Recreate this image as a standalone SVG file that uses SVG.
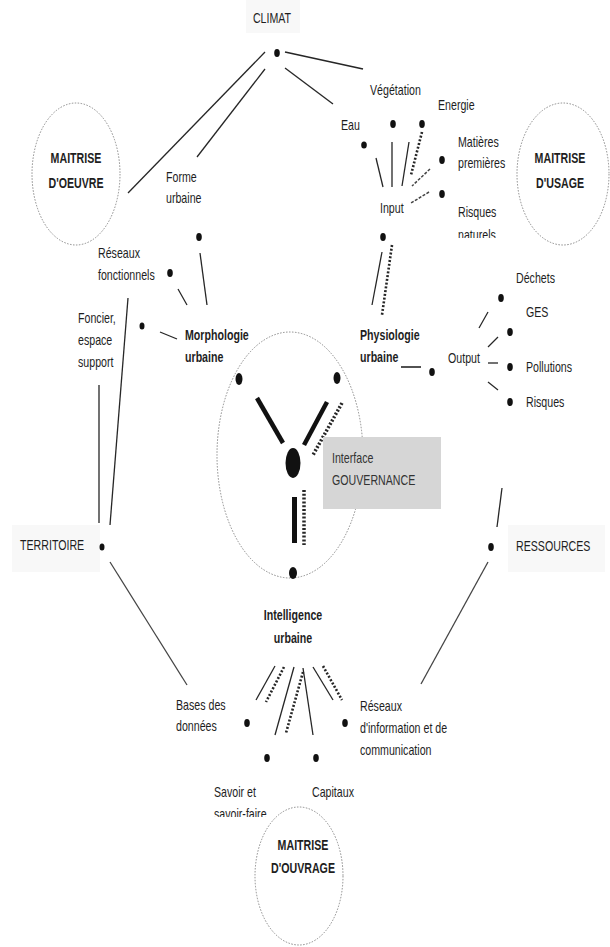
<svg xmlns="http://www.w3.org/2000/svg" width="610" height="947" viewBox="0 0 610 947">
<style>
text{font-family:"Liberation Sans",Arial,sans-serif;font-size:14px;fill:#1e1e1e}
.b{font-weight:bold}
.m{text-anchor:middle}
.dot{fill:#111}
.ring{fill:none;stroke:#8a8a8a;stroke-width:1;stroke-dasharray:1.5 1.5}
.ln{stroke:#262626;stroke-width:1.3;fill:none}
.dt{stroke:#262626;stroke-width:2.6;stroke-dasharray:2 1.8;fill:none}
.ds{stroke:#444;stroke-width:1.5;stroke-dasharray:3 1.5;fill:none}
.th{stroke:#111;stroke-width:4.5;fill:none}
.bg{fill:#f8f8f8}
</style>
<defs>
<clipPath id="clipNat"><rect x="440" y="220" width="80" height="18"/></clipPath>
<clipPath id="clipSav"><rect x="200" y="800" width="80" height="17"/></clipPath>
</defs>
<rect width="610" height="947" fill="#fff"/>
<rect class="bg" x="246" y="0" width="54" height="33"/>
<rect class="bg" x="12" y="525" width="88" height="47"/>
<rect class="bg" x="508" y="525" width="97" height="47"/>

<g id="rings">
<ellipse class="ring" cx="76" cy="174" rx="44" ry="71"/>
<ellipse class="ring" cx="563" cy="174" rx="46" ry="71"/>
<ellipse class="ring" cx="290" cy="455" rx="73" ry="123"/>
<ellipse class="ring" cx="299" cy="876" rx="44" ry="69"/>
</g>

<g id="connectors">
<line class="ln" x1="265" y1="52" x2="128" y2="193"/>
<line class="ln" x1="265" y1="69" x2="197" y2="157"/>
<line class="ln" x1="285" y1="52" x2="363" y2="69" style="stroke-width:1.6"/>
<line class="ln" x1="285" y1="68" x2="333" y2="104"/>
<line class="ln" x1="376" y1="158" x2="383" y2="187"/>
<line class="ln" x1="392" y1="142" x2="392" y2="187"/>
<line class="ln" x1="409" y1="142" x2="402" y2="186"/>
<line class="dt" x1="422" y1="132" x2="411" y2="175"/>
<line class="ds" x1="430" y1="169" x2="412" y2="186"/>
<line class="ds" x1="429" y1="192" x2="411" y2="203"/>
<line class="ln" x1="382" y1="252" x2="372" y2="305"/>
<line class="dt" x1="392" y1="245" x2="382" y2="315"/>
<line class="ln" x1="200" y1="253" x2="207" y2="305"/>
<line class="ln" x1="178" y1="289" x2="187" y2="305"/>
<line class="ln" x1="128" y1="298" x2="110" y2="525"/>
<line class="ln" x1="160" y1="332" x2="177" y2="339"/>
<line class="ln" x1="99" y1="385" x2="99" y2="523"/>
<line class="th" x1="257" y1="398" x2="283" y2="443"/>
<line class="th" x1="327" y1="402" x2="304" y2="445"/>
<line class="dt" x1="342" y1="403" x2="313" y2="455" style="stroke-width:3.5"/>
<line class="th" x1="294.5" y1="497" x2="294.5" y2="543" style="stroke-width:5"/>
<line class="dt" x1="304" y1="490" x2="304" y2="545" style="stroke-width:3.5"/>
<line class="ln" x1="401" y1="367" x2="421" y2="367" style="stroke-width:1.6"/>
<line class="ln" x1="479" y1="328" x2="488" y2="312"/>
<line class="ln" x1="488" y1="347" x2="498" y2="337"/>
<line class="ln" x1="488" y1="363" x2="498" y2="363"/>
<line class="ln" x1="488" y1="382" x2="498" y2="390"/>
<line class="ln" x1="502" y1="488" x2="497" y2="527"/>
<line class="ln" x1="488" y1="562" x2="421" y2="684" style="stroke:#444"/>
<line class="ln" x1="110" y1="562" x2="187" y2="685" style="stroke:#444"/>
<line class="ln" x1="275" y1="666" x2="256" y2="700"/>
<line class="dt" x1="284" y1="667" x2="266" y2="702"/>
<line class="ln" x1="294" y1="667" x2="275" y2="735"/>
<line class="dt" x1="303" y1="672" x2="286" y2="733"/>
<line class="ln" x1="303" y1="668" x2="313" y2="735"/>
<line class="ln" x1="313" y1="667" x2="333" y2="700"/>
<line class="dt" x1="323" y1="666" x2="342" y2="700"/>
</g>

<g id="climat">
<text class="m" transform="translate(272 23) scale(.76 1)">CLIMAT</text>
<ellipse class="dot" cx="277" cy="53" rx="2.8" ry="4"/>
</g>
<g id="eau">
<text transform="translate(341 130) scale(.76 1)">Eau</text>
<ellipse class="dot" cx="364" cy="145" rx="2.8" ry="3.5"/>
</g>
<g id="vegetation">
<text transform="translate(370 95) scale(.76 1)">Végétation</text>
<ellipse class="dot" cx="393" cy="124" rx="2.8" ry="4"/>
</g>
<g id="energie">
<text transform="translate(438 110) scale(.76 1)">Energie</text>
<ellipse class="dot" cx="422" cy="124" rx="2.8" ry="4"/>
</g>
<g id="matieres">
<text transform="translate(458 147) scale(.76 1)"><tspan x="0" y="0">Matières</tspan><tspan x="0" y="21">premières</tspan></text>
<ellipse class="dot" cx="442" cy="160" rx="2.8" ry="4"/>
</g>
<g id="risques-naturels">
<text transform="translate(458 217) scale(.76 1)">Risques</text>
<g clip-path="url(#clipNat)"><text transform="translate(458 240) scale(.76 1)">naturels</text></g>
<ellipse class="dot" cx="442" cy="194" rx="2.8" ry="4"/>
</g>
<g id="input">
<text transform="translate(380 213) scale(.76 1)">Input</text>
<ellipse class="dot" cx="383" cy="237" rx="2.8" ry="4"/>
</g>
<g id="maitrise-oeuvre">
<text class="b m" transform="translate(76 163) scale(.76 1)"><tspan x="0" y="0">MAITRISE</tspan><tspan x="0" y="25">D'OEUVRE</tspan></text>
</g>
<g id="maitrise-usage">
<text class="b m" transform="translate(560 163) scale(.76 1)"><tspan x="0" y="0">MAITRISE</tspan><tspan x="0" y="25">D'USAGE</tspan></text>
</g>
<g id="forme">
<text transform="translate(166 182) scale(.76 1)"><tspan x="0" y="0">Forme</tspan><tspan x="0" y="21">urbaine</tspan></text>
<ellipse class="dot" cx="199" cy="237" rx="2.8" ry="4"/>
</g>
<g id="reseaux-fonctionnels">
<text transform="translate(98 258) scale(.76 1)"><tspan x="0" y="0">Réseaux</tspan><tspan x="0" y="22">fonctionnels</tspan></text>
<ellipse class="dot" cx="170" cy="273" rx="2.8" ry="4"/>
</g>
<g id="foncier">
<text transform="translate(78 323) scale(.76 1)"><tspan x="0" y="0">Foncier,</tspan><tspan x="0" y="22">espace</tspan><tspan x="0" y="44">support</tspan></text>
<ellipse class="dot" cx="142" cy="326" rx="2.5" ry="3.5"/>
</g>
<g id="morphologie">
<text class="b" transform="translate(185 340) scale(.76 1)"><tspan x="0" y="0">Morphologie</tspan><tspan x="0" y="22">urbaine</tspan></text>
</g>
<g id="physiologie">
<text class="b" transform="translate(360 340) scale(.76 1)"><tspan x="0" y="0">Physiologie</tspan><tspan x="0" y="22">urbaine</tspan></text>
</g>
<g id="output">
<text transform="translate(448 363) scale(.76 1)">Output</text>
<ellipse class="dot" cx="432" cy="372" rx="2.8" ry="4"/>
</g>
<g id="dechets">
<text transform="translate(516 283) scale(.76 1)">Déchets</text>
<ellipse class="dot" cx="501" cy="298" rx="2.8" ry="4"/>
</g>
<g id="ges">
<text transform="translate(526 317) scale(.76 1)">GES</text>
<ellipse class="dot" cx="510" cy="332" rx="2.8" ry="4"/>
</g>
<g id="pollutions">
<text transform="translate(526 372) scale(.76 1)">Pollutions</text>
<ellipse class="dot" cx="510" cy="367" rx="2.8" ry="4"/>
</g>
<g id="risques">
<text transform="translate(526 407) scale(.76 1)">Risques</text>
<ellipse class="dot" cx="510" cy="402" rx="2.8" ry="4"/>
</g>
<g id="gouvernance">
<ellipse class="dot" cx="239" cy="379" rx="3.5" ry="6"/>
<ellipse class="dot" cx="337" cy="378" rx="3.5" ry="6"/>
<ellipse class="dot" cx="293" cy="463" rx="7.5" ry="15"/>
<ellipse class="dot" cx="293" cy="573" rx="4" ry="6"/>
<rect x="323" y="437" width="118" height="72" fill="#d6d6d6"/>
<text transform="translate(332 463) scale(.76 1)" style="fill:#333"><tspan x="0" y="0">Interface</tspan><tspan x="0" y="22">GOUVERNANCE</tspan></text>
</g>
<g id="territoire">
<text transform="translate(20 550) scale(.76 1)">TERRITOIRE</text>
<ellipse class="dot" cx="102" cy="547" rx="2.5" ry="3.5"/>
</g>
<g id="ressources">
<text transform="translate(516 551) scale(.76 1)">RESSOURCES</text>
<ellipse class="dot" cx="491" cy="547" rx="2.8" ry="4"/>
</g>
<g id="intelligence">
<text class="b m" transform="translate(293 620) scale(.76 1)"><tspan x="0" y="0">Intelligence</tspan><tspan x="0" y="23">urbaine</tspan></text>
</g>
<g id="bases">
<text transform="translate(176 710) scale(.76 1)"><tspan x="0" y="0">Bases des</tspan><tspan x="0" y="21">données</tspan></text>
<ellipse class="dot" cx="247" cy="723" rx="2.8" ry="4"/>
</g>
<g id="reseaux-info">
<text transform="translate(360 711) scale(.76 1)"><tspan x="0" y="0">Réseaux</tspan><tspan x="0" y="22">d'information et de</tspan><tspan x="0" y="44">communication</tspan></text>
<ellipse class="dot" cx="345" cy="723" rx="2.8" ry="4"/>
</g>
<g id="savoir">
<text transform="translate(214 797) scale(.76 1)">Savoir et</text>
<g clip-path="url(#clipSav)"><text transform="translate(214 819) scale(.76 1)">savoir-faire</text></g>
<ellipse class="dot" cx="267" cy="758" rx="2.8" ry="4"/>
</g>
<g id="capitaux">
<text transform="translate(312 797) scale(.76 1)">Capitaux</text>
<ellipse class="dot" cx="316" cy="758" rx="2.8" ry="4"/>
</g>
<g id="maitrise-ouvrage">
<text class="b m" transform="translate(303 850) scale(.76 1)"><tspan x="0" y="0">MAITRISE</tspan><tspan x="0" y="23">D'OUVRAGE</tspan></text>
</g>
</svg>
